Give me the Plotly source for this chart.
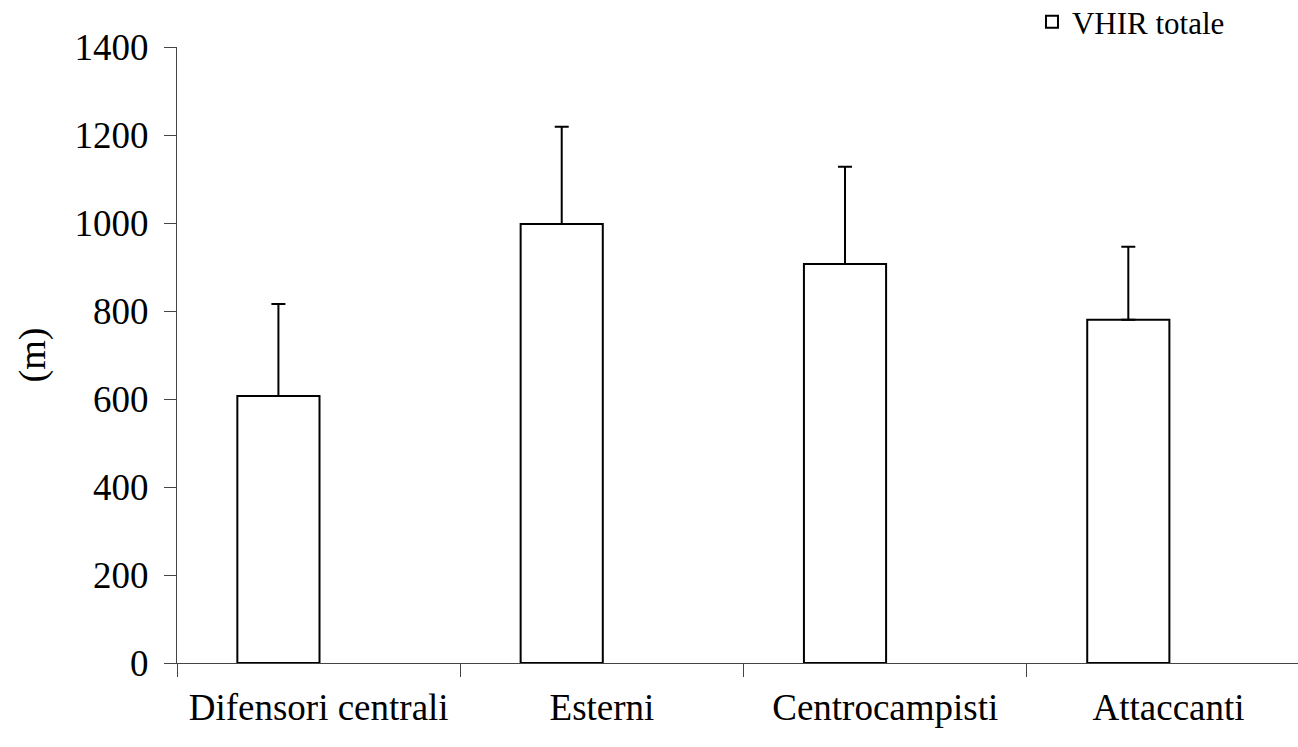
import plotly.graph_objects as go

categories = ["Difensori centrali", "Esterni", "Centrocampisti", "Attaccanti"]
vhir_totale = [607, 998, 907, 780]
vhir_sd = [209, 221, 221, 166]
y_ticks = [0, 200, 400, 600, 800, 1000, 1200, 1400]

FONT = "Liberation Serif"

fig = go.Figure()
fig.add_trace(go.Bar(
    x=categories, y=vhir_totale, name="VHIR totale",
    width=0.29, offset=-0.287,
    marker=dict(color="white", line=dict(color="black", width=2)),
    error_y=dict(type="data", array=vhir_sd, symmetric=False, arrayminus=[0]*4,
                 color="black", thickness=2, width=7),
))

fig.update_layout(
    width=1298, height=747,
    margin=dict(l=177, r=0, t=47, b=84, autoexpand=False),
    paper_bgcolor="white", plot_bgcolor="white",
    font=dict(family=FONT, color="black", size=37),
    showlegend=True,
    legend=dict(xref="container", yref="container",
                x=0.9476, y=0.9705, xanchor="right", yanchor="middle",
                font=dict(size=31, family=FONT), bgcolor="rgba(0,0,0,0)",
                itemwidth=30),
    xaxis=dict(
        type="category", range=[-0.5, 3.457], automargin=False,
        showline=True, linecolor="#444", linewidth=1,
        ticks="outside", tickson="boundaries", ticklen=13, tickcolor="#444",
        tickfont=dict(size=37, family=FONT), showgrid=False, zeroline=False,
        ticklabelstandoff=12,
    ),
    yaxis=dict(
        range=[0, 1400], tickvals=y_ticks, automargin=False,
        showline=True, linecolor="#444", linewidth=1,
        ticks="outside", ticklen=12, tickcolor="#444",
        tickfont=dict(size=37, family=FONT), showgrid=False, zeroline=False,
        ticklabelstandoff=8,
        title=dict(text="(m)", font=dict(size=38, family=FONT), standoff=17),
    ),
)

fig.write_html("out.html", config={"displayModeBar": False},
               post_script="document.body.style.margin='0px';")
